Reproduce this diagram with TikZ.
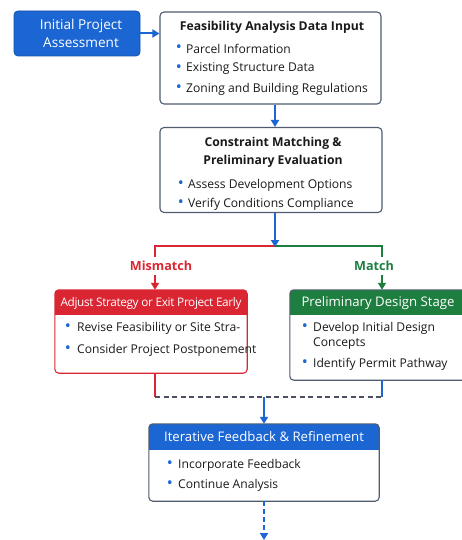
\documentclass[tikz,border=0pt]{standalone}
\usepackage{fontspec}
\setmainfont{Open Sans}
\usetikzlibrary{arrows.meta}
\definecolor{mblue}{HTML}{1B66D2}
\definecolor{mred}{HTML}{D92632}
\definecolor{mgreen}{HTML}{1E7E40}
\definecolor{mborder}{HTML}{4F5B6E}
\definecolor{mdash}{HTML}{4A5060}
\definecolor{mtext}{HTML}{1A1A1A}
\newcommand{\bul}{\textcolor{mblue}{\fontsize{16}{16}\selectfont\textbullet}}
\tikzset{
  plainbox/.style={draw=mborder, line width=1.1pt, rounded corners=4pt, fill=white, inner sep=0pt},
  txt/.style={inner sep=0pt, anchor=west, text=mtext, font=\fontsize{12.1}{14}\selectfont},
  title/.style={inner sep=0pt, text=mtext, font=\fontsize{12.2}{14}\selectfont\bfseries},
  head/.style={inner sep=0pt, text=white, font=\fontsize{13.2}{14}\selectfont},
  bl/.style={inner sep=0pt},
  barrow/.style={draw=mblue, line width=2pt, -{Triangle[length=7pt,width=8pt]}},
  bline/.style={draw=mblue, line width=2pt},
  rline/.style={draw=mred, line width=2pt},
  gline/.style={draw=mgreen, line width=2pt},
}
\begin{document}
\begin{tikzpicture}[x=1pt,y=-1pt]
\useasboundingbox (0,0) rectangle (461,540);
% Initial box
\node[fill=mblue, draw=mblue!80!black, line width=0.8pt, rounded corners=4pt, minimum width=126pt, minimum height=45pt, inner sep=0pt] (init) at (77,33.5) {};
\node[inner sep=0pt, text=white, align=center, font=\fontsize{13.6}{18}\selectfont] (initt) at (81,33) {Initial Project\\Assessment};
% Feasibility box
\node[plainbox, minimum width=221pt, minimum height=92pt] (feas) at (270.5,58) {};
\node[title] (feast) at (272,27) {Feasibility Analysis Data Input};
\node[bl] (fb1) at (179,49) {\bul}; \node[txt] (f1) at (186,49) {Parcel Information};
\node[bl] (fb2) at (179,69) {\bul}; \node[txt] (f2) at (186,69) {Existing Structure Data};
\node[bl] (fb3) at (179,89) {\bul}; \node[txt] (f3) at (186,89) {Zoning and Building Regulations};
% Constraint box
\node[plainbox, minimum width=222pt, minimum height=85pt] (cons) at (271,170) {};
\node[title] (ct1) at (273,143) {Constraint Matching \&};
\node[title] (ct2) at (273,161) {Preliminary Evaluation};
\node[bl] (cb1) at (181,185) {\bul}; \node[txt] (c1) at (188,185) {Assess Development Options};
\node[bl] (cb2) at (181,204) {\bul}; \node[txt] (c2) at (188,204) {Verify Conditions Compliance};
% Red box
\node[inner sep=0pt, minimum width=192pt, minimum height=83pt] (redb) at (151,331.5) {};
\begin{scope}
\clip[rounded corners=4pt] (redb.north west) rectangle (redb.south east);
\fill[white] (redb.north west) rectangle (redb.south east);
\fill[mred] (redb.north west) rectangle ([yshift=-25pt]redb.north east);
\end{scope}
\draw[mred, line width=1.1pt, rounded corners=4pt] (redb.north west) rectangle (redb.south east);
\node[head, font=\fontsize{11.8}{14}\selectfont] (redh) at (151,303) {\addfontfeatures{LetterSpace=-3}Adjust Strategy or Exit Project Early};
\node[bl] (rb1) at (68,328) {\bul}; \node[txt] (r1) at (77,328) {Revise Feasibility or Site Stra-};
\node[bl] (rb2) at (68,350) {\bul}; \node[txt] (r2) at (77,350) {Consider Project Postponement};
% Green box
\node[inner sep=0pt, minimum width=178pt, minimum height=90pt] (grnb) at (379,335) {};
\begin{scope}
\clip[rounded corners=4pt] (grnb.north west) rectangle (grnb.south east);
\fill[white] (grnb.north west) rectangle (grnb.south east);
\fill[mgreen] (grnb.north west) rectangle ([yshift=-25pt]grnb.north east);
\end{scope}
\draw[mborder, line width=1.1pt, rounded corners=4pt] (grnb.north west) rectangle (grnb.south east);
\node[head] (grnh) at (378,303) {Preliminary Design Stage};
\node[bl] (gb1) at (305,328) {\bul}; \node[txt] (g1) at (313,328) {Develop Initial Design};
\node[txt] (g1b) at (313,344) {Concepts};
\node[bl] (gb2) at (305,364) {\bul}; \node[txt] (g2) at (313,364) {Identify Permit Pathway};
% Iterative box
\node[inner sep=0pt, minimum width=230pt, minimum height=77pt] (iter) at (264,462.5) {};
\begin{scope}
\clip[rounded corners=4pt] (iter.north west) rectangle (iter.south east);
\fill[white] (iter.north west) rectangle (iter.south east);
\fill[mblue] (iter.north west) rectangle ([yshift=-26pt]iter.north east);
\end{scope}
\draw[mborder, line width=1.1pt, rounded corners=4pt] (iter.north west) rectangle (iter.south east);
\node[head] (iterh) at (264,437) {Iterative Feedback \& Refinement};
\node[bl] (ib1) at (170,465) {\bul}; \node[txt] (i1) at (178,465) {Incorporate Feedback};
\node[bl] (ib2) at (170,485) {\bul}; \node[txt] (i2) at (178,485) {Continue Analysis};
% Labels
\node[inner sep=0pt, text=mred, font=\fontsize{12.6}{14}\selectfont\bfseries] (mis) at (161,266) {Mismatch};
\node[inner sep=0pt, text=mgreen, font=\fontsize{12.6}{14}\selectfont\bfseries] (mat) at (374,266) {Match};
% Coordinates
\coordinate (split) at (275,246);
\coordinate (rl) at (155,246);
\coordinate (gl) at (382,246);
\coordinate (rj) at (155,397);
\coordinate (gj) at (382,397);
\coordinate (mj) at (264,397);
\coordinate (endp) at (264,540);
% Connectors
\draw[barrow] (init.east) -- (feas.west |- init.east);
\draw[barrow] (feas.south -| 275,0) -- (cons.north -| 275,0);
\draw[rline] (split) -- (rl) -- (rl |- 0,257);
\draw[gline] (split) -- (gl) -- (gl |- 0,257);
\draw[mred, line width=2pt, -{Triangle[length=7pt,width=8pt]}] (155,275) -- (redb.north -| 155,0);
\draw[mgreen, line width=2pt, -{Triangle[length=7pt,width=8pt]}] (382,275) -- (grnb.north -| 382,0);
\draw[barrow] (cons.south -| split) -- ([yshift=-1pt]split);
\draw[rline] (redb.south -| rj) -- (rj);
\draw[bline] (grnb.south -| gj) -- (gj);
\draw[mdash, line width=1.5pt, dash pattern=on 5pt off 3.5pt] (rj) -- (gj);
\draw[barrow] (mj) -- (iter.north);
\draw[mblue, line width=2pt, dash pattern=on 5pt off 3pt, -{Triangle[length=7pt,width=8pt]}] (iter.south) -- (endp);
\end{tikzpicture}
\end{document}
